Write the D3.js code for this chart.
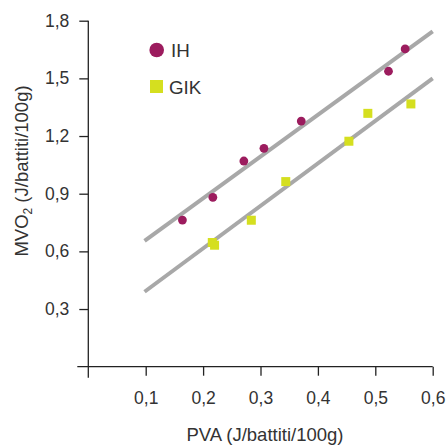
<!DOCTYPE html>
<html>
<head>
<meta charset="utf-8">
<script src="https://cdn.jsdelivr.net/npm/d3@7"></script>
<style>
  body { margin: 0; background: #fff; }
  svg { display: block; font-family: "Liberation Sans", Arial, sans-serif; }
</style>
</head>
<body>
<svg id="chart" width="446" height="446"></svg>
<script>
// data
var ihPVA   = [0.164, 0.217, 0.271, 0.306, 0.371, 0.523, 0.552];
var ihMVO2  = [0.763, 0.881, 1.070, 1.136, 1.278, 1.537, 1.653];
var gikPVA  = [0.216, 0.220, 0.284, 0.344, 0.454, 0.487, 0.562];
var gikMVO2 = [0.646, 0.632, 0.762, 0.963, 1.173, 1.318, 1.367];

// regression lines (x from, x to) and (y from, y to)
var fitX    = [0.098, 0.6];
var ihFitY  = [0.655, 1.745];
var gikFitY = [0.39, 1.50];

var xTicks = [0.1, 0.2, 0.3, 0.4, 0.5, 0.6];
var yTicks = [0.3, 0.6, 0.9, 1.2, 1.5, 1.8];

var seriesNames = ["IH", "GIK"];
var ihColor = "#9c1c5e", gikColor = "#d5df1f", lineColor = "#a8a8a8", axisColor = "#222";

var svg = d3.select("#chart");

var x = d3.scaleLinear().domain([0, 0.6]).range([88.3, 432.7]);
var y = d3.scaleLinear().domain([0, 1.8]).range([366.7, 20.7]);

var fmt = function(d) { return d3.format(".1f")(d).replace(".", ","); };

// x axis
var gx = svg.append("g")
  .attr("transform", "translate(0," + y(0) + ")")
  .call(d3.axisBottom(x).tickValues(xTicks).tickFormat(fmt).tickSize(9).tickPadding(16).tickSizeOuter(0));
gx.select(".domain").remove();
gx.append("line")
  .attr("x1", x(0) - 11).attr("x2", x(0.6))
  .attr("stroke", axisColor).attr("stroke-width", 1.3);

// y axis
var gy = svg.append("g")
  .attr("transform", "translate(" + x(0) + ",0)")
  .call(d3.axisLeft(y).tickValues(yTicks).tickFormat(fmt).tickSize(9).tickPadding(10).tickSizeOuter(0));
gy.select(".domain").remove();
gy.append("line")
  .attr("y1", y(1.8)).attr("y2", y(0) + 11)
  .attr("stroke", axisColor).attr("stroke-width", 1.3);

svg.selectAll(".tick line").attr("stroke", axisColor).attr("stroke-width", 1.3);
svg.selectAll(".tick text").attr("fill", "#333").style("font-size", "17.5px")
  .style("font-family", "'Liberation Sans', Arial, sans-serif");

// fit lines
var line = d3.line().x(function(d) { return x(d[0]); }).y(function(d) { return y(d[1]); });
[ihFitY, gikFitY].forEach(function(fy) {
  svg.append("path")
    .attr("d", line(d3.zip(fitX, fy)))
    .attr("stroke", lineColor).attr("stroke-width", 4).attr("fill", "none");
});

// GIK squares
var sq = 9;
svg.selectAll("rect.gik")
  .data(d3.zip(gikPVA, gikMVO2))
  .enter().append("rect")
  .attr("class", "gik")
  .attr("x", function(d) { return x(d[0]) - sq / 2; })
  .attr("y", function(d) { return y(d[1]) - sq / 2; })
  .attr("width", sq).attr("height", sq)
  .attr("fill", gikColor);

// IH circles
svg.selectAll("circle.ih")
  .data(d3.zip(ihPVA, ihMVO2))
  .enter().append("circle")
  .attr("class", "ih")
  .attr("cx", function(d) { return x(d[0]); })
  .attr("cy", function(d) { return y(d[1]); })
  .attr("r", 4.4)
  .attr("fill", ihColor);

// legend
svg.append("circle").attr("cx", 156.7).attr("cy", 50).attr("r", 7.3).attr("fill", ihColor);
svg.append("text").attr("x", 171).attr("y", 57).text(seriesNames[0])
  .attr("fill", "#333").style("font-size", "18.8px");
svg.append("rect").attr("x", 150).attr("y", 80).attr("width", 13).attr("height", 13).attr("fill", gikColor);
svg.append("text").attr("x", 169).attr("y", 94).text(seriesNames[1])
  .attr("fill", "#333").style("font-size", "18.8px");

// axis titles
svg.append("text")
  .attr("x", 265).attr("y", 441)
  .attr("text-anchor", "middle")
  .attr("fill", "#333").style("font-size", "18.5px")
  .text("PVA (J/battiti/100g)");

var yt = svg.append("text")
  .attr("transform", "translate(28,171) rotate(-90)")
  .attr("text-anchor", "middle")
  .attr("fill", "#333").style("font-size", "18.5px");
yt.append("tspan").text("MVO");
yt.append("tspan").attr("dy", 4).style("font-size", "12px").text("2");
yt.append("tspan").attr("dy", -4).text(" (J/battiti/100g)");
</script>
</body>
</html>
